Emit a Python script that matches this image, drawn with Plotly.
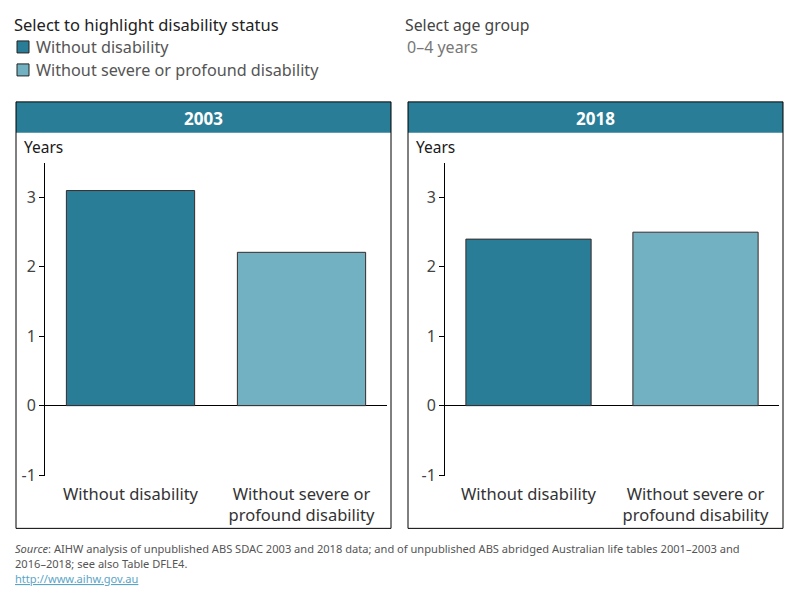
import plotly.graph_objects as go

W, H = 800, 600
K = 1.014  # vertical calibration
years = ["2003", "2018"]
statuses = ["Without disability", "Without severe or profound disability"]
status_ticks = ["Without disability", "Without severe or<br>profound disability"]
values = {"2003": [3.1, 2.21], "2018": [2.4, 2.5]}
colors = ["#2a7d96", "#71b1c2"]
y_ticks = [-1, 0, 1, 2, 3]
y_tick_text = ["-1", "0", "1", "2", "3"]

FONT = "Noto Sans"

def px(x):
    return x / W

def py(y):
    return 1 - (y * K) / H

fig = go.Figure()

panels = [
    dict(year="2003", xdom=(45, 387), box=(16, 391)),
    dict(year="2018", xdom=(445, 779), box=(408, 783)),
]

for i, p in enumerate(panels):
    sfx = "" if i == 0 else str(i + 1)
    fig.add_trace(go.Bar(
        x=statuses, y=values[p["year"]],
        marker=dict(color=colors, line=dict(color="#3a2a2a", width=1)),
        width=0.75, xaxis="x" + sfx, yaxis="y" + sfx, showlegend=False,
        hoverinfo="x+y",
    ))
    fig.update_layout(**{
        "xaxis" + sfx: dict(
            domain=[px(p["xdom"][0]), px(p["xdom"][1])],
            anchor="y" + sfx, showgrid=False, showline=False, zeroline=False,
            ticks="", tickvals=statuses, ticktext=status_ticks,
            tickfont=dict(family=FONT, size=16.5, color="#333"),
            ticklabelstandoff=6,
            fixedrange=True,
        ),
        "yaxis" + sfx: dict(
            domain=[py(477), py(163)], anchor="x" + sfx,
            range=[-1.02, 3.5], showgrid=False, showline=True,
            linecolor="black", linewidth=1, ticks="outside", ticklen=5,
            tickcolor="black", tickvals=y_ticks, ticktext=y_tick_text,
            zeroline=True, zerolinecolor="black", zerolinewidth=1,
            tickfont=dict(family=FONT, size=16, color="#444"),
            fixedrange=True,
        ),
    })
    fig.add_shape(type="rect", xref="paper", yref="paper",
                  x0=px(p["box"][0]), x1=px(p["box"][1]), y0=py(529), y1=py(102),
                  line=dict(color="black", width=1), fillcolor="rgba(0,0,0,0)", layer="above")
    fig.add_shape(type="rect", xref="paper", yref="paper",
                  x0=px(p["box"][0]), x1=px(p["box"][1]), y0=py(133), y1=py(102),
                  line=dict(width=0), fillcolor="#2a7d96", layer="below")
    fig.add_annotation(x=px((p["box"][0] + p["box"][1]) / 2), y=py(119), xref="paper", yref="paper",
                       text="<b>" + p["year"] + "</b>", showarrow=False,
                       font=dict(family=FONT, size=17, color="white"), xanchor="center", yanchor="middle")
    fig.add_annotation(x=px(p["box"][0] + 6), y=py(147), xref="paper", yref="paper",
                       text="Years", showarrow=False,
                       font=dict(family=FONT, size=15.5, color="#1a1a1a"), xanchor="left", yanchor="middle")

fig.add_annotation(x=px(12), y=py(25), xref="paper", yref="paper", text="Select to highlight disability status",
                   showarrow=False, font=dict(family=FONT, size=16.5, color="#222"), xanchor="left", yanchor="middle")
for j, (s, c) in enumerate(zip(statuses, colors)):
    yc = 47 + j * 23
    fig.add_shape(type="rect", xref="paper", yref="paper",
                  x0=px(17), x1=px(29), y0=py(yc + 6), y1=py(yc - 6),
                  line=dict(color="#222", width=1), fillcolor=c)
    fig.add_annotation(x=px(34), y=py(yc), xref="paper", yref="paper", text=s,
                       showarrow=False, font=dict(family=FONT, size=16.2, color="#555"),
                       xanchor="left", yanchor="middle")
fig.add_annotation(x=px(403), y=py(25), xref="paper", yref="paper", text="Select age group",
                   showarrow=False, font=dict(family=FONT, size=15.8, color="#444"), xanchor="left", yanchor="middle")
fig.add_annotation(x=px(405), y=py(47), xref="paper", yref="paper", text="0–4 years",
                   showarrow=False, font=dict(family=FONT, size=16, color="#777"), xanchor="left", yanchor="middle")

FOOT = "Noto Sans"
FS = 11.1
fig.add_annotation(x=px(13), y=py(549), xref="paper", yref="paper",
                   text="<i>Source</i>: AIHW analysis of unpublished ABS SDAC 2003 and 2018 data; and of unpublished ABS abridged Australian life tables 2001–2003 and",
                   showarrow=False, font=dict(family=FOOT, size=FS, color="#555"), xanchor="left", yanchor="middle")
fig.add_annotation(x=px(13), y=py(564), xref="paper", yref="paper",
                   text="2016–2018; see also Table DFLE4.",
                   showarrow=False, font=dict(family=FOOT, size=FS, color="#555"), xanchor="left", yanchor="middle")
fig.add_annotation(x=px(13), y=py(579), xref="paper", yref="paper",
                   text="<u>http://www.aihw.gov.au</u>",
                   showarrow=False, font=dict(family=FOOT, size=FS, color="#5aa5c7"), xanchor="left", yanchor="middle")

fig.update_layout(width=W, height=H, margin=dict(l=0, r=0, t=0, b=0),
                  paper_bgcolor="white", plot_bgcolor="white", bargap=0.25)

fig.write_html("out.html")
